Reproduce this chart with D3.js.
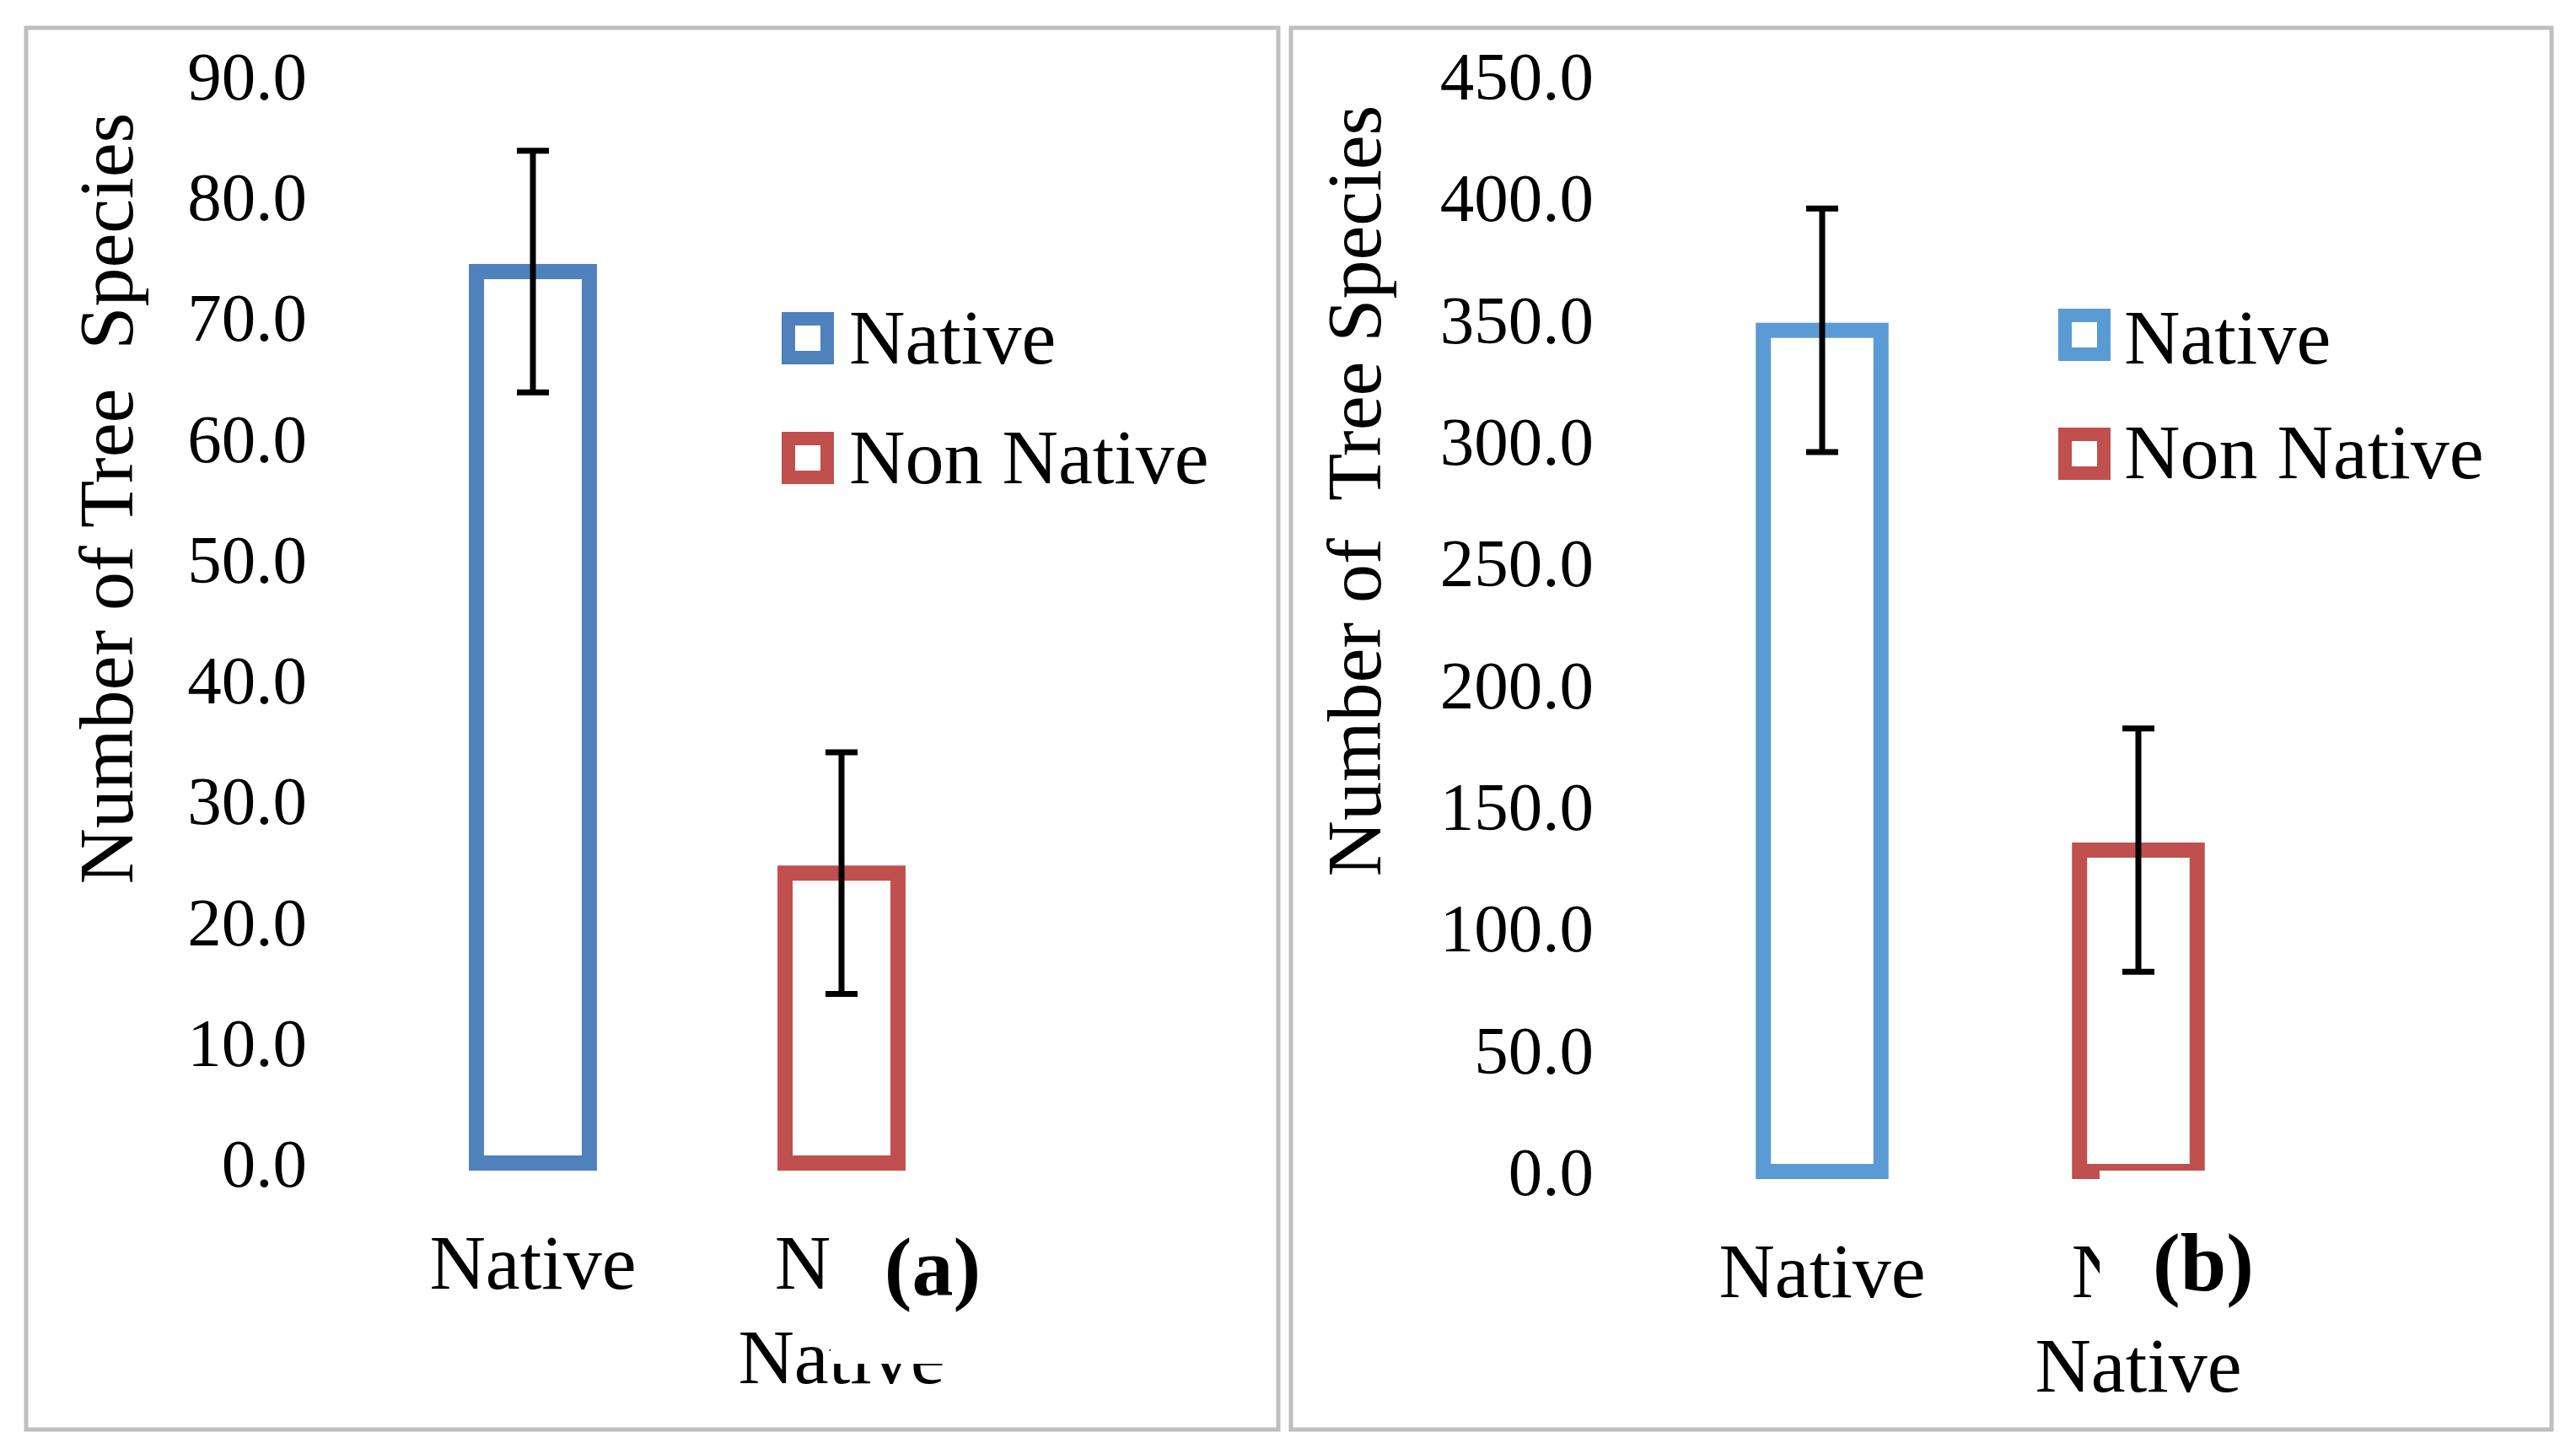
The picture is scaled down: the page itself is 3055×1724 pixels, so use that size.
<!DOCTYPE html>
<html><head><meta charset="utf-8">
<script src="https://cdn.jsdelivr.net/npm/d3@7"></script>
<style>
html,body{margin:0;padding:0;background:#fff;}
svg{display:block;}
text{font-family:"Liberation Serif","DejaVu Serif",serif;fill:#000;white-space:pre;}
</style></head>
<body>
<svg id="chart" width="3055" height="1724"></svg>
<script>
// ---- data ----
const categories = ["Native", "Non Native"];
const categoryLines = [["Native"], ["Non", "Native"]];
const seriesNames = ["Native", "Non Native"];
const valuesA = [73.8, 24.0];
const errorsA = [10.0, 10.0];
const valuesB = [345.5, 132.0];
const errorsB = [50.0, 50.0];
const ticksA = [0, 10, 20, 30, 40, 50, 60, 70, 80, 90];
const ticksB = [0, 50, 100, 150, 200, 250, 300, 350, 400, 450];
const titleA = "Number of Tree  Species";
const titleB = "Number of  Tree Species";
const tagA = "(a)";
const tagB = "(b)";

// ---- layout ----
const svg = d3.select("#chart");
const panels = [
  {values: valuesA, errors: errorsA, ticks: ticksA, max: 90, title: titleA, tag: tagA,
   colors: ["#4F81BD", "#C0504D"],
   frame: [31, 33, 1485, 1662], yRange: [1379, 90], tickX: 364,
   titleX: 157, titleY: 591, band: [449, 1181], barFrac: 0.415,
   legX: 927, legY: [370, 512], legTextX: 1007, legTextY: [400, 542],
   catBase: 1528, tagBox: [985, 1440, 230, 177], tagX: 1106, tagBase: 1535},
  {values: valuesB, errors: errorsB, ticks: ticksB, max: 450, title: titleB, tag: tagB,
   colors: ["#5B9BD5", "#C0504D"],
   frame: [1531, 33, 1495, 1662], yRange: [1389, 90], tickX: 1890,
   titleX: 1637, titleY: 582, band: [1973.5, 2723.5], barFrac: 0.42,
   legX: 2441, legY: [366, 507], legTextX: 2519, legTextY: [400, 536],
   catBase: 1538, tagBox: [2490, 1388, 220, 200], tagX: 2613, tagBase: 1530}
];

const SW = 18;

panels.forEach(p => {
  const g = svg.append("g");
  // frame
  g.append("rect").attr("x", p.frame[0]).attr("y", p.frame[1])
    .attr("width", p.frame[2]).attr("height", p.frame[3])
    .attr("fill", "#fff").attr("stroke", "#bfbfbf").attr("stroke-width", 5);

  const y = d3.scaleLinear().domain([0, p.max]).range(p.yRange);
  const x = d3.scaleBand().domain(categories).range(p.band).padding(0);

  // y axis (labels only)
  const ax = g.append("g").attr("transform", `translate(${p.tickX},0)`)
    .call(d3.axisLeft(y).tickValues(p.ticks).tickSize(0).tickPadding(0)
      .tickFormat(d3.format(".1f")));
  ax.select(".domain").remove();
  ax.selectAll("text").attr("font-family", "Liberation Serif").attr("font-size", 81)
    .attr("fill", "#000").attr("dy", "0.34em");

  // y title
  g.append("text").attr("transform", `translate(${p.titleX},${p.titleY}) rotate(-90)`)
    .attr("text-anchor", "middle").attr("font-size", 92).text(p.title);

  // bars
  const bw = x.bandwidth() * p.barFrac - SW;
  g.selectAll("rect.bar").data(p.values).enter().append("rect").attr("class", "bar")
    .attr("x", (d, i) => x(categories[i]) + x.bandwidth() / 2 - bw / 2)
    .attr("y", d => y(d))
    .attr("width", bw)
    .attr("height", d => y(0) - y(d))
    .attr("fill", "none")
    .attr("stroke", (d, i) => p.colors[i])
    .attr("stroke-width", SW);

  // error bars
  const eb = g.selectAll("g.err").data(p.values).enter().append("g").attr("class", "err");
  const cx = (i) => x(categories[i]) + x.bandwidth() / 2;
  eb.append("line").attr("x1", (d, i) => cx(i)).attr("x2", (d, i) => cx(i))
    .attr("y1", (d, i) => y(d + p.errors[i])).attr("y2", (d, i) => y(d - p.errors[i]))
    .attr("stroke", "#000").attr("stroke-width", 7);
  eb.append("line").attr("x1", (d, i) => cx(i) - 19).attr("x2", (d, i) => cx(i) + 19)
    .attr("y1", (d, i) => y(d + p.errors[i])).attr("y2", (d, i) => y(d + p.errors[i]))
    .attr("stroke", "#000").attr("stroke-width", 7);
  eb.append("line").attr("x1", (d, i) => cx(i) - 19).attr("x2", (d, i) => cx(i) + 19)
    .attr("y1", (d, i) => y(d - p.errors[i])).attr("y2", (d, i) => y(d - p.errors[i]))
    .attr("stroke", "#000").attr("stroke-width", 7);

  // category labels
  categoryLines.forEach((lines, i) => {
    lines.forEach((t, j) => {
      g.append("text").attr("x", cx(i)).attr("y", p.catBase + j * 112)
        .attr("text-anchor", "middle").attr("font-size", 92).text(t);
    });
  });

  // legend
  seriesNames.forEach((s, i) => {
    g.append("rect").attr("x", p.legX + 8).attr("y", p.legY[i] + 8)
      .attr("width", 62 - 16).attr("height", 62 - 16)
      .attr("fill", "#fff").attr("stroke", p.colors[i]).attr("stroke-width", 16);
    g.append("text").attr("x", p.legTextX).attr("y", p.legTextY[i]).attr("dy", "0.34em")
      .attr("font-size", 92).text(s);
  });

  // panel tag with white box (covers part of the wrapped category label, as in the reference)
  g.append("rect").attr("x", p.tagBox[0]).attr("y", p.tagBox[1])
    .attr("width", p.tagBox[2]).attr("height", p.tagBox[3]).attr("fill", "#fff");
  g.append("text").attr("x", p.tagX).attr("y", p.tagBase).attr("text-anchor", "middle")
    .attr("font-size", 98).attr("font-weight", "bold").text(p.tag);
});
</script>
</body></html>
